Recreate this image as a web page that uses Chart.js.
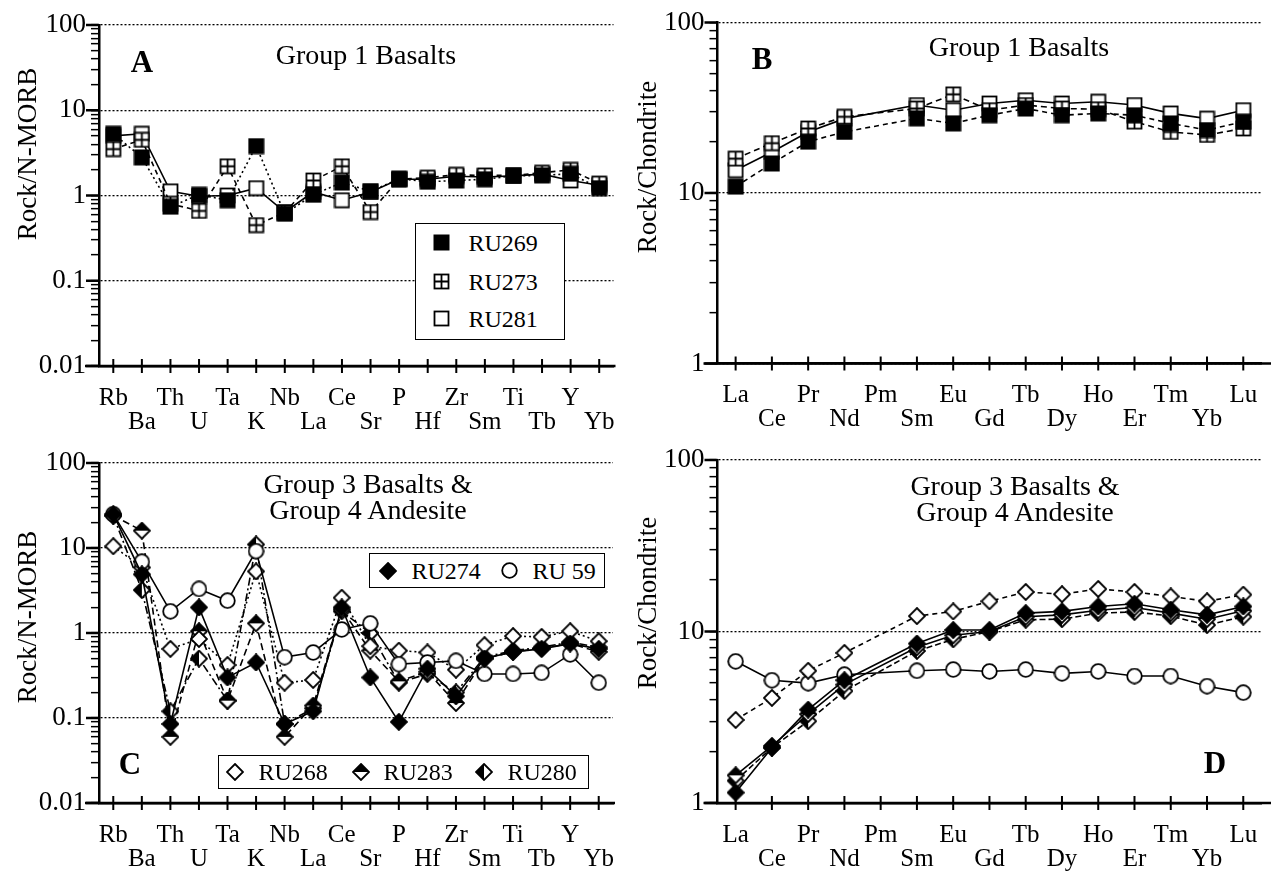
<!DOCTYPE html>
<html lang="en">
<head>
<meta charset="UTF-8">
<title>Trace element and REE patterns</title>
<script src="https://cdn.jsdelivr.net/npm/chart.js"></script>
<style>
  body { margin: 0; background: #fff; }
  #page { position: relative; width: 1271px; height: 872px; overflow: hidden; font-family: 'Liberation Serif', 'Times New Roman', serif; color: #000; }
  #page canvas.panel { position: absolute; }
  .txt { position: absolute; white-space: nowrap; line-height: 1; transform: translate(-50%, -50%); }
  .ytitle { font-size: 27px; transform: translate(-50%, -50%) rotate(-90deg); }
  .title { font-size: 28px; text-align: center; line-height: 26px; }
  .letter { font-size: 31px; font-weight: bold; }
  .legend { position: absolute; box-sizing: border-box; border: 1.5px solid #000; background: #fff; }
  .legend span { position: absolute; font-size: 24px; line-height: 1; transform: translateY(-50%); white-space: nowrap; }
  .legend canvas { position: absolute; }
</style>
</head>
<body>
<div id="page">
  <canvas id="chartA" class="panel" width="635" height="436" style="left:0;top:0"></canvas>
  <canvas id="chartB" class="panel" width="636" height="436" style="left:635px;top:0"></canvas>
  <canvas id="chartC" class="panel" width="635" height="436" style="left:0;top:436px"></canvas>
  <canvas id="chartD" class="panel" width="636" height="436" style="left:635px;top:436px"></canvas>
</div>
<script>
// element order on the x axes
const traceElements = ['Rb', 'Ba', 'Th', 'U', 'Ta', 'K', 'Nb', 'La', 'Ce', 'Sr', 'P', 'Hf', 'Zr', 'Sm', 'Ti', 'Tb', 'Y', 'Yb'];
const reeElements = ['La', 'Ce', 'Pr', 'Nd', 'Pm', 'Sm', 'Eu', 'Gd', 'Tb', 'Dy', 'Ho', 'Er', 'Tm', 'Yb', 'Lu'];

// labelled y ticks
const morbTicks = [0.01, 0.1, 1, 10, 100];
const chondriteTicks = [1, 10, 100];

// A: Group 1 basalts, rock / N-MORB
const aRU269 = [5.3, 2.8, 0.74, 1.02, 0.88, 3.8, 0.61, 1.02, 1.42, 1.12, 1.57, 1.45, 1.5, 1.55, 1.7, 1.72, 1.8, 1.22];
const aRU273 = [3.5, 4.5, 0.8, 0.66, 2.2, 0.45, 0.63, 1.5, 2.2, 0.64, 1.55, 1.62, 1.75, 1.72, 1.72, 1.85, 2.0, 1.38];
const aRU281 = [5.0, 5.3, 1.12, 0.98, 1.0, 1.22, 0.64, 1.1, 0.88, 1.1, 1.55, 1.55, 1.68, 1.65, 1.7, 1.78, 1.5, 1.32];

// B: Group 1 basalts, rock / chondrite (no Pm)
const bRU269 = [10.9, 14.9, 20, 22.8, null, 27.4, 25.6, 28.6, 31.3, 28.6, 29.3, 28.6, 25.6, 23.4, 26.2];
const bRU273 = [15.9, 19.6, 23.9, 28, null, 31.3, 37.9, 30.6, 32.8, 31.3, 31, 26.2, 22.8, 21.9, 23.9];
const bRU281 = [13.6, 17.4, 22.8, 27.3, null, 32.8, 30.6, 33.5, 35, 33.5, 34.3, 32.8, 29.3, 27.3, 30.6];

// C: Group 3 basalts & Group 4 andesite, rock / N-MORB
const cRU274 = [25, 4.9, 0.085, 2.0, 0.3, 0.45, 0.085, 0.12, 2.0, 0.3, 0.09, 0.38, 0.18, 0.5, 0.6, 0.65, 0.75, 0.65];
const cRU59 = [25, 6.9, 1.8, 3.3, 2.4, 9.2, 0.52, 0.59, 1.1, 1.3, 0.43, 0.45, 0.47, 0.33, 0.33, 0.34, 0.56, 0.26];
const cRU268 = [10.5, 5.9, 0.65, 0.85, 0.42, 5.3, 0.26, 0.28, 2.6, 0.7, 0.62, 0.59, 0.37, 0.72, 0.92, 0.9, 1.05, 0.8];
const cRU283 = [24, 16, 0.06, 1.05, 0.16, 1.3, 0.06, 0.14, 1.9, 0.62, 0.27, 0.35, 0.15, 0.5, 0.6, 0.66, 0.75, 0.6];
const cRU280 = [24, 3.2, 0.12, 0.5, 0.16, 11, 0.085, 0.13, 1.8, 1.0, 0.26, 0.33, 0.2, 0.52, 0.62, 0.68, 0.78, 0.68];

// D: Group 3 basalts & Group 4 andesite, rock / chondrite
const dRU274 = [1.15, 2.1, 3.5, 5.2, null, 8.5, 10.2, 10.2, 12.8, 13.1, 14.0, 14.5, 13.4, 12.5, 14.0];
const dRU59 = [6.7, 5.2, 5.0, 5.6, null, 5.9, 6.0, 5.85, 6.0, 5.7, 5.85, 5.5, 5.5, 4.8, 4.4];
const dRU268 = [3.05, 4.1, 5.9, 7.5, null, 12.3, 13.1, 15.0, 17.0, 16.5, 17.7, 17.0, 16.0, 15.0, 16.4];
const dRU283 = [1.45, 2.15, 3.3, 4.9, null, 8.1, 9.5, 10, 12.2, 12.5, 13.3, 13.8, 12.8, 11.8, 13.2];
const dRU280 = [1.35, 2.1, 3.0, 4.5, null, 7.7, 9.0, 10, 11.7, 11.8, 12.8, 13.0, 12.3, 10.9, 12.2];

const FONT = "'Liberation Serif', 'Times New Roman', serif";
const page = document.getElementById('page');

// little marker images used as point styles
function makeMarker(kind) {
  const s = kind.endsWith('sq') ? 17 : (kind === 'oci' ? 17 : 18);
  const c = document.createElement('canvas');
  c.width = s; c.height = s;
  const g = c.getContext('2d');
  g.strokeStyle = '#000';
  g.lineWidth = 1.8;
  g.fillStyle = '#fff';
  const h = s / 2;
  if (kind === 'fsq') {
    g.fillStyle = '#000';
    g.fillRect(0.5, 0.5, s - 1, s - 1);
  } else if (kind === 'osq' || kind === 'xsq') {
    g.fillRect(1, 1, s - 2, s - 2);
    g.strokeRect(1.5, 1.5, s - 3, s - 3);
    if (kind === 'xsq') {
      g.beginPath();
      g.moveTo(h, 1.5); g.lineTo(h, s - 1.5);
      g.moveTo(1.5, h); g.lineTo(s - 1.5, h);
      g.stroke();
    }
  } else if (kind === 'oci') {
    g.beginPath();
    g.arc(h, h, h - 1.2, 0, Math.PI * 2);
    g.fill(); g.stroke();
  } else {
    const d = () => { g.beginPath(); g.moveTo(h, 1); g.lineTo(s - 1, h); g.lineTo(h, s - 1); g.lineTo(1, h); g.closePath(); };
    d();
    g.fillStyle = kind === 'fdi' ? '#000' : '#fff';
    g.fill();
    if (kind === 'tdi') {
      g.fillStyle = '#000';
      g.beginPath(); g.moveTo(h, 1); g.lineTo(s - 1, h); g.lineTo(1, h); g.closePath(); g.fill();
    } else if (kind === 'ldi') {
      g.fillStyle = '#000';
      g.beginPath(); g.moveTo(h, 1); g.lineTo(h, s - 1); g.lineTo(1, h); g.closePath(); g.fill();
    }
    d();
    g.stroke();
  }
  return c;
}

function series(label, data, marker, dash) {
  return {
    label, data,
    borderColor: '#000', borderWidth: 1.6, borderDash: dash,
    pointStyle: makeMarker(marker), pointRadius: 8,
    fill: false, tension: 0, spanGaps: true, clip: false
  };
}

function isDecade(v) {
  const l = Math.log10(v);
  return Math.abs(l - Math.round(l)) < 1e-6;
}

// axis overhang, crossing x ticks and longer decade ticks
const axisDecor = {
  id: 'axisDecor',
  afterDraw(chart, args, opts) {
    const { ctx, chartArea: a, scales: { x, y } } = chart;
    ctx.save();
    ctx.strokeStyle = '#000';
    ctx.lineWidth = 2.5;
    ctx.beginPath();
    ctx.moveTo(a.left - 14, a.bottom);
    ctx.lineTo(Math.min(chart.width, a.right + (opts.extendRight || 0)), a.bottom);
    ctx.stroke();
    ctx.lineWidth = 2;
    ctx.beginPath();
    x.ticks.forEach((t, i) => {
      const px = x.getPixelForTick(i);
      ctx.moveTo(px, a.bottom - 7);
      ctx.lineTo(px, a.bottom + 7);
    });
    ctx.stroke();
    ctx.lineWidth = 2.5;
    ctx.beginPath();
    y.ticks.forEach(t => {
      if (!isDecade(t.value)) return;
      const py = y.getPixelForValue(t.value);
      ctx.moveTo(a.left - 13, py);
      ctx.lineTo(a.left, py);
    });
    ctx.stroke();
    ctx.restore();
  }
};

function buildChart(id, o) {
  new Chart(document.getElementById(id), {
    type: 'line',
    data: { labels: o.labels, datasets: o.datasets },
    plugins: [axisDecor],
    options: {
      responsive: false,
      animation: false,
      events: [],
      layout: { padding: { top: o.padTop, right: o.padRight, left: 0, bottom: 0 } },
      plugins: {
        legend: { display: false },
        tooltip: { enabled: false },
        axisDecor: { extendRight: o.extendRight }
      },
      scales: {
        x: {
          type: 'category',
          offset: true,
          afterFit: (s) => { s.height = o.xHeight; s.paddingLeft = 0; s.paddingRight = 0; },
          grid: { drawOnChartArea: false, tickLength: 7, tickColor: 'rgba(0,0,0,0)' },
          border: { color: '#000', width: 2.5 },
          ticks: {
            autoSkip: false, maxRotation: 0, minRotation: 0, padding: 13, color: '#000',
            font: { family: FONT, size: 25, lineHeight: 0.96 },
            callback: function (value, index) {
              const lab = this.getLabelForValue(value);
              return index % 2 === 0 ? [lab, ''] : ['', lab];
            }
          }
        },
        y: {
          type: 'logarithmic',
          min: o.yMin, max: o.yMax,
          afterFit: (s) => { s.width = o.yWidth; s.paddingTop = 0; s.paddingBottom = 0; },
          afterBuildTicks: (s) => {
            s.ticks = s.ticks.filter(t => {
              const m = t.value / Math.pow(10, Math.floor(Math.log10(t.value) + 1e-9));
              return Math.abs(m - Math.round(m)) < 1e-6;
            });
          },
          grid: {
            color: (c) => (c.tick && isDecade(c.tick.value)) ? '#000' : 'rgba(0,0,0,0)',
            lineWidth: 1.3,
            tickColor: '#000', tickWidth: 1.5, tickLength: 8
          },
          border: { color: '#000', width: 2.5, dash: [2, 2] },
          ticks: {
            autoSkip: false, padding: 5, color: '#000',
            font: { family: FONT, size: 27 },
            callback: (v) => {
              const hit = o.tickValues.find(t => Math.abs(t - v) < t * 1e-6);
              return hit === undefined ? '' : String(hit);
            }
          }
        }
      }
    }
  });
}

// text helpers (page coordinates)
function addText(cls, text, x, y) {
  const d = document.createElement('div');
  d.className = 'txt ' + cls;
  d.innerHTML = text;
  d.style.left = x + 'px';
  d.style.top = y + 'px';
  page.appendChild(d);
}

function addLegend(box, items) {
  const d = document.createElement('div');
  d.className = 'legend';
  Object.assign(d.style, { left: box.left + 'px', top: box.top + 'px', width: box.width + 'px', height: box.height + 'px' });
  items.forEach(it => {
    const m = makeMarker(it.marker);
    m.style.left = (it.mx - box.left - m.width / 2 - 1.5) + 'px';
    m.style.top = (it.y - box.top - m.height / 2 - 1.5) + 'px';
    d.appendChild(m);
    const s = document.createElement('span');
    s.textContent = it.text;
    s.style.left = (it.tx - box.left - 1.5) + 'px';
    s.style.top = (it.y - box.top - 1.5) + 'px';
    d.appendChild(s);
  });
  page.appendChild(d);
}

// Panel A
buildChart('chartA', {
  labels: traceElements, yMin: 0.01, yMax: 100, tickValues: morbTicks,
  padTop: 25, padRight: 21.5, yWidth: 99, xHeight: 70, extendRight: 2,
  datasets: [
    series('RU269', aRU269, 'fsq', [2, 3]),
    series('RU273', aRU273, 'xsq', [5, 4]),
    series('RU281', aRU281, 'osq', [])
  ]
});

// Panel B
buildChart('chartB', {
  labels: reeElements, yMin: 1, yMax: 100, tickValues: chondriteTicks,
  padTop: 22.5, padRight: 3.5, yWidth: 82.5, xHeight: 72.5, extendRight: 10,
  datasets: [
    series('RU269', bRU269, 'fsq', [5, 4]),
    series('RU273', bRU273, 'xsq', [6, 4]),
    series('RU281', bRU281, 'osq', [])
  ]
});

// Panel C
buildChart('chartC', {
  labels: traceElements, yMin: 0.01, yMax: 100, tickValues: morbTicks,
  padTop: 27, padRight: 22, yWidth: 99, xHeight: 69, extendRight: 2,
  datasets: [
    series('RU274', cRU274, 'fdi', []),
    series('RU 59', cRU59, 'oci', []),
    series('RU268', cRU268, 'odi', [2, 3]),
    series('RU283', cRU283, 'tdi', [7, 4]),
    series('RU280', cRU280, 'ldi', [8, 3, 2, 3])
  ]
});

// Panel D
buildChart('chartD', {
  labels: reeElements, yMin: 1, yMax: 100, tickValues: chondriteTicks,
  padTop: 24, padRight: 3.5, yWidth: 82.5, xHeight: 69, extendRight: 10,
  datasets: [
    series('RU274', dRU274, 'fdi', []),
    series('RU283', dRU283, 'tdi', []),
    series('RU280', dRU280, 'ldi', [6, 3]),
    series('RU268', dRU268, 'odi', [5, 4]),
    series('RU 59', dRU59, 'oci', [])
  ]
});

// axis titles, panel titles and letters
addText('ytitle', 'Rock/N-MORB', 27, 154);
addText('ytitle', 'Rock/Chondrite', 647, 167);
addText('ytitle', 'Rock/N-MORB', 27, 617);
addText('ytitle', 'Rock/Chondrite', 647, 603);
addText('title', 'Group 1 Basalts', 366, 55);
addText('title', 'Group 1 Basalts', 1019, 47);
addText('title', 'Group 3 Basalts &amp;<br>Group 4 Andesite', 368, 497);
addText('title', 'Group 3 Basalts &amp;<br>Group 4 Andesite', 1015, 499);
addText('letter', 'A', 142, 61);
addText('letter', 'B', 762, 58);
addText('letter', 'C', 130, 763);
addText('letter', 'D', 1215, 762);

// legends
addLegend({ left: 415, top: 223, width: 150, height: 117 }, [
  { marker: 'fsq', mx: 442, tx: 469, y: 243, text: 'RU269' },
  { marker: 'xsq', mx: 442, tx: 469, y: 282, text: 'RU273' },
  { marker: 'osq', mx: 442, tx: 469, y: 319, text: 'RU281' }
]);
addLegend({ left: 369, top: 553, width: 236, height: 35 }, [
  { marker: 'fdi', mx: 388, tx: 412, y: 571, text: 'RU274' },
  { marker: 'oci', mx: 510, tx: 533, y: 571, text: 'RU 59' }
]);
addLegend({ left: 218, top: 755, width: 371, height: 34 }, [
  { marker: 'odi', mx: 235, tx: 259, y: 772, text: 'RU268' },
  { marker: 'tdi', mx: 361, tx: 384, y: 772, text: 'RU283' },
  { marker: 'ldi', mx: 484, tx: 508, y: 772, text: 'RU280' }
]);
</script>
</body>
</html>
